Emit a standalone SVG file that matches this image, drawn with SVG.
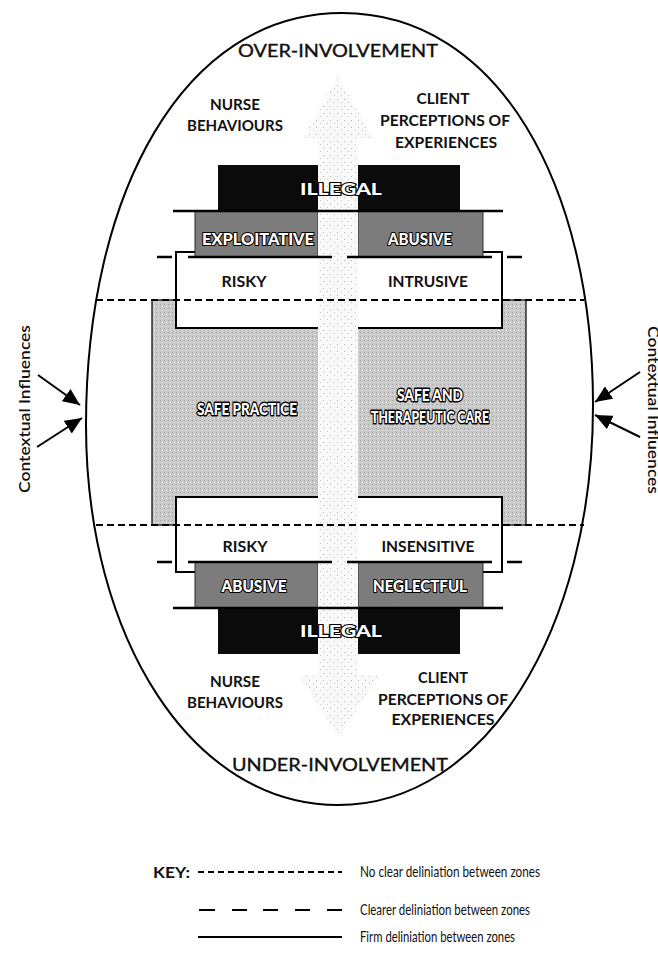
<svg xmlns="http://www.w3.org/2000/svg" width="658" height="953" viewBox="0 0 658 953">
  <defs>
    <style>
      .lbl{font-family:Lato,"Open Sans","DejaVu Sans",sans-serif;font-weight:700;font-size:16px;text-anchor:middle;fill:#111}
      .hol{font-size:17px;font-weight:900;fill:#fff;stroke:#000;stroke-width:2.2;paint-order:stroke;stroke-linejoin:round}
      .hol3{stroke-width:2.8}
      .head{font-family:Lato,"Open Sans","DejaVu Sans",sans-serif;font-weight:400;font-size:17px;text-anchor:middle;fill:#111;stroke:#111;stroke-width:0.35}
      .key{font-family:Lato,"Open Sans","DejaVu Sans",sans-serif;font-weight:400;font-size:16px;fill:#111}
      .firm{stroke:#000;stroke-width:2.4;fill:none}
      .clear{stroke:#000;stroke-width:2.4;fill:none}
      .noclear{stroke:#000;stroke-width:2;fill:none;stroke-dasharray:7 4}
      .box{fill:#fff;stroke:#000;stroke-width:2}
      .black{fill:#0b0b0b}
      .dark{fill:#7c7c7c;stroke:#2a2a2a;stroke-width:1}
      .arr{stroke:#000;stroke-width:2;fill:none;marker-end:url(#ah)}
    </style>
    <pattern id="stip" width="7" height="7" patternUnits="userSpaceOnUse">
      <rect width="7" height="7" fill="#f9f9f9"/>
      <rect x="1" y="1" width="1" height="1" fill="#b4b4b4"/>
      <rect x="5" y="4" width="1" height="1" fill="#c4c4c4"/>
    </pattern>
    <pattern id="grain" width="4" height="4" patternUnits="userSpaceOnUse">
      <rect width="4" height="4" fill="#c9c9c9"/>
      <rect x="0" y="0" width="1" height="1" fill="#a4a4a4"/>
      <rect x="2" y="2" width="1" height="1" fill="#e4e4e4"/>
    </pattern>
    <marker id="ah" viewBox="0 0 17 15" refX="17" refY="7.5" markerWidth="17" markerHeight="15" markerUnits="userSpaceOnUse" orient="auto">
      <path d="M0,0 L17,7.5 L0,15 Z" fill="#000"/>
    </marker>
  </defs>

  <rect width="658" height="953" fill="#fff"/>

  <!-- outer boundary -->
  <g id="boundary">
    <path d="M342,13 C498,13 593,185 593,405 C593,629 486,805 338,805 C192,805 86,638 86,425 C86,194 183,13 342,13 Z" fill="none" stroke="#000" stroke-width="2"/>
  </g>

  <!-- safe zone band -->
  <g id="safe-zone">
    <rect x="152" y="300" width="374" height="225" fill="url(#grain)" stroke="#000" stroke-width="1.2"/>
  </g>

  <!-- grey-area boxes -->
  <g id="upper-grey">
    <rect class="box" x="176" y="252" width="326" height="76"/>
  </g>
  <g id="lower-grey">
    <rect class="box" x="176" y="497" width="326" height="75"/>
  </g>

  <!-- upper extreme blocks -->
  <g id="upper-illegal">
    <rect class="black" x="218" y="165" width="100" height="46"/>
    <rect class="black" x="358" y="165" width="102" height="46"/>
  </g>
  <g id="upper-harm">
    <rect class="dark" x="195" y="211" width="123" height="46"/>
    <rect class="dark" x="358" y="211" width="125" height="46"/>
  </g>

  <!-- lower extreme blocks -->
  <g id="lower-harm">
    <rect class="dark" x="195" y="562" width="123" height="46"/>
    <rect class="dark" x="358" y="562" width="125" height="46"/>
  </g>
  <g id="lower-illegal">
    <rect class="black" x="218" y="608" width="100" height="46"/>
    <rect class="black" x="358" y="608" width="102" height="46"/>
  </g>

  <!-- involvement continuum arrow -->
  <g id="continuum">
    <path d="M338,77 L373,138 L358,138 L358,675 L379,675 L339,737 L299,675 L318,675 L318,138 L303,138 Z" fill="url(#stip)"/>
  </g>

  <!-- zone boundaries -->
  <g id="connectors">
    <line class="noclear" x1="96" y1="300" x2="584" y2="300"/>
    <line class="noclear" x1="96" y1="525" x2="584" y2="525"/>
    <line class="firm" x1="173" y1="211" x2="503" y2="211"/>
    <line class="firm" x1="173" y1="608" x2="503" y2="608"/>
    <path class="clear" d="M157,257 H172 M188,257 H332 M347,257 H492 M507,257 H522"/>
    <path class="clear" d="M157,562 H172 M188,562 H332 M347,562 H492 M507,562 H522"/>
    <line class="arr" x1="38" y1="375" x2="80" y2="405"/>
    <line class="arr" x1="37" y1="447" x2="82" y2="418"/>
    <line class="arr" x1="640" y1="372" x2="595" y2="402"/>
    <line class="arr" x1="640" y1="437" x2="595" y2="415"/>
  </g>

  <!-- labels -->
  <g id="labels-top">
    <text class="head" x="338" y="57" textLength="200" lengthAdjust="spacingAndGlyphs">OVER-INVOLVEMENT</text>
    <text class="lbl" x="235" y="110" textLength="50" lengthAdjust="spacingAndGlyphs">NURSE</text>
    <text class="lbl" x="235" y="131" textLength="96" lengthAdjust="spacingAndGlyphs">BEHAVIOURS</text>
    <text class="lbl" x="443" y="104" textLength="53" lengthAdjust="spacingAndGlyphs">CLIENT</text>
    <text class="lbl" x="445" y="126" textLength="130" lengthAdjust="spacingAndGlyphs">PERCEPTIONS OF</text>
    <text class="lbl" x="446" y="148" textLength="102" lengthAdjust="spacingAndGlyphs">EXPERIENCES</text>
  </g>
  <g id="labels-upper">
    <text class="lbl hol" x="341" y="195" textLength="82" lengthAdjust="spacingAndGlyphs">ILLEGAL</text>
    <text class="lbl hol" x="258" y="245" textLength="112" lengthAdjust="spacingAndGlyphs">EXPLOITATIVE</text>
    <text class="lbl hol" x="420" y="245" textLength="64" lengthAdjust="spacingAndGlyphs">ABUSIVE</text>
    <text class="lbl" x="244" y="287" textLength="45" lengthAdjust="spacingAndGlyphs">RISKY</text>
    <text class="lbl" x="428" y="287" textLength="80" lengthAdjust="spacingAndGlyphs">INTRUSIVE</text>
  </g>
  <g id="labels-safe">
    <text class="lbl hol hol3" x="247" y="415" textLength="100" lengthAdjust="spacingAndGlyphs">SAFE PRACTICE</text>
    <text class="lbl hol hol3" x="430" y="401" textLength="66" lengthAdjust="spacingAndGlyphs">SAFE AND</text>
    <text class="lbl hol hol3" x="430" y="423" textLength="118" lengthAdjust="spacingAndGlyphs">THERAPEUTIC CARE</text>
  </g>
  <g id="labels-lower">
    <text class="lbl" x="245" y="552" textLength="45" lengthAdjust="spacingAndGlyphs">RISKY</text>
    <text class="lbl" x="428" y="552" textLength="93" lengthAdjust="spacingAndGlyphs">INSENSITIVE</text>
    <text class="lbl hol" x="254" y="592" textLength="65" lengthAdjust="spacingAndGlyphs">ABUSIVE</text>
    <text class="lbl hol" x="420" y="592" textLength="94" lengthAdjust="spacingAndGlyphs">NEGLECTFUL</text>
    <text class="lbl hol" x="341" y="637" textLength="82" lengthAdjust="spacingAndGlyphs">ILLEGAL</text>
  </g>
  <g id="labels-bottom">
    <text class="lbl" x="235" y="687" textLength="50" lengthAdjust="spacingAndGlyphs">NURSE</text>
    <text class="lbl" x="235" y="708" textLength="96" lengthAdjust="spacingAndGlyphs">BEHAVIOURS</text>
    <text class="lbl" x="443" y="683" textLength="50" lengthAdjust="spacingAndGlyphs">CLIENT</text>
    <text class="lbl" x="443" y="705" textLength="130" lengthAdjust="spacingAndGlyphs">PERCEPTIONS OF</text>
    <text class="lbl" x="443" y="725" textLength="103" lengthAdjust="spacingAndGlyphs">EXPERIENCES</text>
    <text class="head" x="340" y="771" textLength="216" lengthAdjust="spacingAndGlyphs">UNDER-INVOLVEMENT</text>
  </g>
  <g id="context-left">
    <text class="lbl" transform="translate(30,409) rotate(-90)" x="0" y="0" textLength="168" lengthAdjust="spacingAndGlyphs" style="font-weight:600">Contextual Influences</text>
  </g>
  <g id="context-right">
    <text class="lbl" transform="translate(648,410) rotate(90)" x="0" y="0" textLength="168" lengthAdjust="spacingAndGlyphs" style="font-weight:600">Contextual Influences</text>
  </g>

  <!-- key -->
  <g id="key">
    <text class="lbl" x="153" y="878" style="text-anchor:start" textLength="37" lengthAdjust="spacingAndGlyphs">KEY:</text>
    <line x1="198" y1="872" x2="342" y2="872" stroke="#000" stroke-width="1.8" stroke-dasharray="6 4"/>
    <text class="key" x="360" y="877" textLength="180" lengthAdjust="spacingAndGlyphs">No clear deliniation between zones</text>
    <path d="M199,910 H215 M232,910 H247 M263,910 H278 M295,910 H310 M327,910 H342" stroke="#000" stroke-width="1.8" fill="none"/>
    <text class="key" x="360" y="915" textLength="170" lengthAdjust="spacingAndGlyphs">Clearer deliniation between zones</text>
    <line x1="198" y1="937" x2="342" y2="937" stroke="#000" stroke-width="1.8"/>
    <text class="key" x="360" y="942" textLength="155" lengthAdjust="spacingAndGlyphs">Firm deliniation between zones</text>
  </g>
</svg>
